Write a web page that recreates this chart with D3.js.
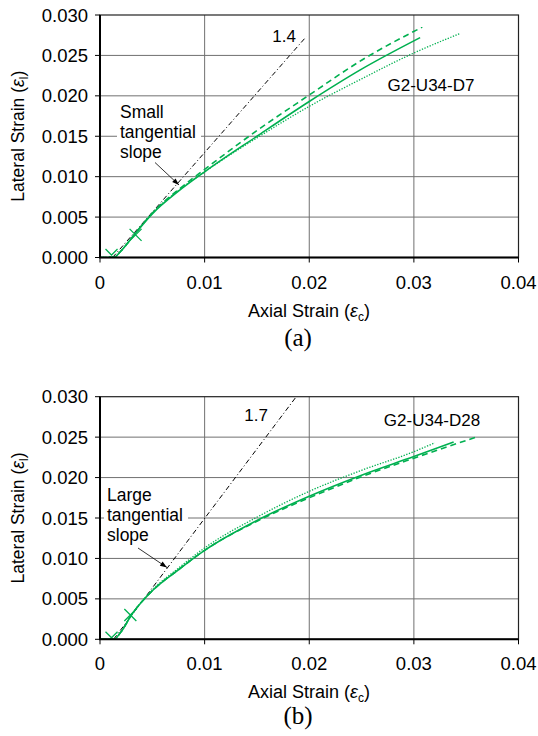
<!DOCTYPE html>
<html>
<head>
<meta charset="utf-8">
<script src="https://cdn.jsdelivr.net/npm/d3@7"></script>
<style>
body { margin: 0; background: #fff; }
text { font-family: "Liberation Sans", Arial, sans-serif; }
</style>
</head>
<body>
<svg width="538" height="736"></svg>
<script>
var svg = d3.select("svg");

// axes ticks
var xTicks = [0, 0.01, 0.02, 0.03, 0.04];
var xTickLabels = ["0", "0.01", "0.02", "0.03", "0.04"];
var yTicks = [0, 0.005, 0.01, 0.015, 0.02, 0.025, 0.03];
var yTickLabels = ["0.000", "0.005", "0.010", "0.015", "0.020", "0.025", "0.030"];

// panel (a) G2-U34-D7  [axial, lateral]
var aSolid = [[0,0],[0.0013,0],[0.002,0.0008],[0.0032,0.0027],[0.005,0.0054],[0.0075,0.0082],[0.01,0.0106],[0.015,0.0150],[0.02,0.0193],[0.025,0.0233],[0.0306,0.0272]];
var aDashed = [[0,0],[0.0013,0],[0.002,0.0008],[0.0032,0.0027],[0.005,0.0055],[0.0075,0.0084],[0.01,0.0109],[0.015,0.0157],[0.02,0.0201],[0.025,0.0244],[0.0308,0.0285]];
var aDotted = [[0,0],[0.0013,0],[0.002,0.0008],[0.0032,0.0027],[0.005,0.0055],[0.0075,0.0083],[0.01,0.0106],[0.015,0.0148],[0.02,0.0187],[0.025,0.0221],[0.03,0.0253],[0.0344,0.0277]];
var aTangent = [[0.0012,0],[0.0197,0.0273]];
var aMarks = [[0.0011,0.0003],[0.0034,0.0028]];

// panel (b) G2-U34-D28
var bSolid = [[0,0],[0.0013,0],[0.002,0.0009],[0.003,0.0030],[0.005,0.0060],[0.0075,0.0086],[0.01,0.0110],[0.015,0.0147],[0.02,0.0177],[0.025,0.0203],[0.03,0.0226],[0.0338,0.0244]];
var bDashed = [[0,0],[0.0013,0],[0.002,0.0009],[0.003,0.0030],[0.005,0.0060],[0.0075,0.0086],[0.01,0.0110],[0.015,0.0146],[0.02,0.0175],[0.025,0.0201],[0.03,0.0224],[0.0362,0.0251]];
var bDotted = [[0,0],[0.0013,0],[0.002,0.0009],[0.003,0.0030],[0.005,0.0061],[0.0075,0.0088],[0.01,0.0113],[0.015,0.0151],[0.02,0.0183],[0.025,0.0209],[0.03,0.0232],[0.032,0.0243]];
var bTangent = [[0.0013,0],[0.0187,0.0299]];
var bMarks = [[0.0011,0.0002],[0.0029,0.0030]];

var green = "#00b050";

var x = d3.scaleLinear().domain([0, 0.04]).range([100, 518.5]);

function drawPanel(top, bottom, d, id) {
    var y = d3.scaleLinear().domain([0, 0.03]).range([bottom, top]);
    var g = svg.append("g");

    g.append("clipPath").attr("id", id).append("rect")
        .attr("x", x(0)).attr("y", top).attr("width", x(0.04) - x(0)).attr("height", bottom - top);

    // grid
    g.selectAll(".gx").data(xTicks.slice(1, 4)).enter().append("line")
        .attr("x1", function(v){ return x(v); }).attr("x2", function(v){ return x(v); })
        .attr("y1", top).attr("y2", bottom)
        .attr("stroke", "#707070").attr("stroke-width", 1);
    g.selectAll(".gy").data(yTicks.slice(1, 6)).enter().append("line")
        .attr("x1", x(0)).attr("x2", x(0.04))
        .attr("y1", function(v){ return y(v); }).attr("y2", function(v){ return y(v); })
        .attr("stroke", "#707070").attr("stroke-width", 1);

    // frame
    g.append("rect").attr("x", x(0)).attr("y", top)
        .attr("width", x(0.04) - x(0)).attr("height", bottom - top)
        .attr("fill", "none").attr("stroke", "#222").attr("stroke-width", 1.2);

    // annotation text box (covers grid)
    var note = g.append("g");
    note.append("rect").attr("x", d.noteX - 3).attr("y", d.noteY - 15)
        .attr("width", 84).attr("height", 62).attr("fill", "#fff");
    note.selectAll("text").data(d.note).enter().append("text")
        .attr("x", d.noteX).attr("y", function(t, i){ return d.noteY + i * 20; })
        .attr("font-size", 17.5).text(function(t){ return t; });

    var line = d3.line()
        .x(function(p){ return x(p[0]); })
        .y(function(p){ return y(p[1]); });
    var smooth = d3.line()
        .x(function(p){ return x(p[0]); })
        .y(function(p){ return y(p[1]); })
        .curve(d3.curveMonotoneX);

    var plot = g.append("g").attr("clip-path", "url(#" + id + ")");

    plot.append("path").datum(d.tangent).attr("d", line)
        .attr("fill", "none").attr("stroke", "#000").attr("stroke-width", 1)
        .attr("stroke-dasharray", "5,2.5,1,2.5");
    plot.append("path").datum(d.dotted).attr("d", smooth)
        .attr("fill", "none").attr("stroke", green).attr("stroke-width", 1.3)
        .attr("stroke-dasharray", "1.3,1.5");
    plot.append("path").datum(d.dashed).attr("d", smooth)
        .attr("fill", "none").attr("stroke", green).attr("stroke-width", 1.6)
        .attr("stroke-dasharray", "6,4");
    plot.append("path").datum(d.solid).attr("d", smooth)
        .attr("fill", "none").attr("stroke", green).attr("stroke-width", 1.6);

    plot.selectAll(".mk").data(d.marks).enter().append("path")
        .attr("d", function(p){
            var cx = x(p[0]), cy = y(p[1]), s = 6;
            return "M" + (cx - s) + "," + (cy - s) + "L" + (cx + s) + "," + (cy + s) +
                   "M" + (cx + s) + "," + (cy - s) + "L" + (cx - s) + "," + (cy + s);
        })
        .attr("stroke", green).attr("stroke-width", 1.3).attr("fill", "none");

    // arrow
    var ax = d.arrow;
    g.append("line").attr("x1", ax[0]).attr("y1", ax[1]).attr("x2", ax[2]).attr("y2", ax[3])
        .attr("stroke", "#000").attr("stroke-width", 0.8);
    var ang = Math.atan2(ax[3] - ax[1], ax[2] - ax[0]);
    var hl = 7, hw = 2.5;
    var bx = ax[2] - hl * Math.cos(ang), by = ax[3] - hl * Math.sin(ang);
    g.append("path")
        .attr("d", "M" + ax[2] + "," + ax[3] +
            "L" + (bx - hw * Math.sin(ang)) + "," + (by + hw * Math.cos(ang)) +
            "L" + (bx + hw * Math.sin(ang)) + "," + (by - hw * Math.cos(ang)) + "Z")
        .attr("fill", "#000");

    // slope label, specimen label
    g.append("text").attr("x", d.slopeX).attr("y", d.slopeY).attr("text-anchor", "end")
        .attr("font-size", 17).text(d.slope);
    g.append("text").attr("x", d.nameX).attr("y", d.nameY).attr("text-anchor", "middle")
        .attr("font-size", 17).text(d.name);

    // axes
    g.append("line").attr("x1", x(0)).attr("x2", x(0)).attr("y1", top).attr("y2", bottom)
        .attr("stroke", "#000").attr("stroke-width", 2);
    g.append("line").attr("x1", x(0) - 1).attr("x2", x(0.04)).attr("y1", bottom).attr("y2", bottom)
        .attr("stroke", "#000").attr("stroke-width", 2);

    g.selectAll(".ty").data(yTicks).enter().append("line")
        .attr("x1", x(0) - 5).attr("x2", x(0))
        .attr("y1", function(v){ return y(v); }).attr("y2", function(v){ return y(v); })
        .attr("stroke", "#000").attr("stroke-width", 1);
    g.selectAll(".tx").data(xTicks).enter().append("line")
        .attr("x1", function(v){ return x(v); }).attr("x2", function(v){ return x(v); })
        .attr("y1", bottom).attr("y2", bottom + 5)
        .attr("stroke", "#000").attr("stroke-width", 1);

    g.selectAll(".ly").data(yTicks).enter().append("text")
        .attr("x", 88).attr("y", function(v){ return y(v) + 6.5; })
        .attr("text-anchor", "end").attr("font-size", 18.5)
        .text(function(v, i){ return yTickLabels[i]; });
    g.selectAll(".lx").data(xTicks).enter().append("text")
        .attr("x", function(v){ return x(v); }).attr("y", bottom + 31)
        .attr("text-anchor", "middle").attr("font-size", 18.5)
        .text(function(v, i){ return xTickLabels[i]; });

    // axis titles
    var xt = g.append("text").attr("x", 309).attr("y", bottom + 59)
        .attr("text-anchor", "middle").attr("font-size", 18);
    xt.append("tspan").text("Axial Strain (");
    xt.append("tspan").attr("font-style", "italic").text("ε");
    xt.append("tspan").attr("font-size", 12).attr("dy", 4).text("c");
    xt.append("tspan").attr("dy", -4).text(")");

    var yt = g.append("text")
        .attr("transform", "translate(24," + ((top + bottom) / 2) + ") rotate(-90)")
        .attr("text-anchor", "middle").attr("font-size", 17.5);
    yt.append("tspan").text("Lateral Strain (");
    yt.append("tspan").attr("font-style", "italic").text("ε");
    yt.append("tspan").attr("font-size", 12).attr("dy", 4).text("l");
    yt.append("tspan").attr("dy", -4).text(")");

    g.append("text").attr("x", 298).attr("y", d.tagY)
        .attr("text-anchor", "middle").attr("font-size", 25)
        .style("font-family", "'Liberation Serif', 'Times New Roman', serif")
        .text(d.tag);
}

drawPanel(15, 257.5, {
    solid: aSolid, dashed: aDashed, dotted: aDotted, tangent: aTangent, marks: aMarks,
    note: ["Small", "tangential", "slope"], noteX: 120, noteY: 118,
    arrow: [155, 162.5, 179, 185],
    slope: "1.4", slopeX: 296, slopeY: 42,
    name: "G2-U34-D7", nameX: 431, nameY: 91, tag: "(a)", tagY: 346
}, "clipA");

drawPanel(396.7, 639.3, {
    solid: bSolid, dashed: bDashed, dotted: bDotted, tangent: bTangent, marks: bMarks,
    note: ["Large", "tangential", "slope"], noteX: 107, noteY: 501,
    arrow: [138, 548, 167, 567.5],
    slope: "1.7", slopeX: 268, slopeY: 421,
    name: "G2-U34-D28", nameX: 432, nameY: 426, tag: "(b)", tagY: 724
}, "clipB");
</script>
</body>
</html>
